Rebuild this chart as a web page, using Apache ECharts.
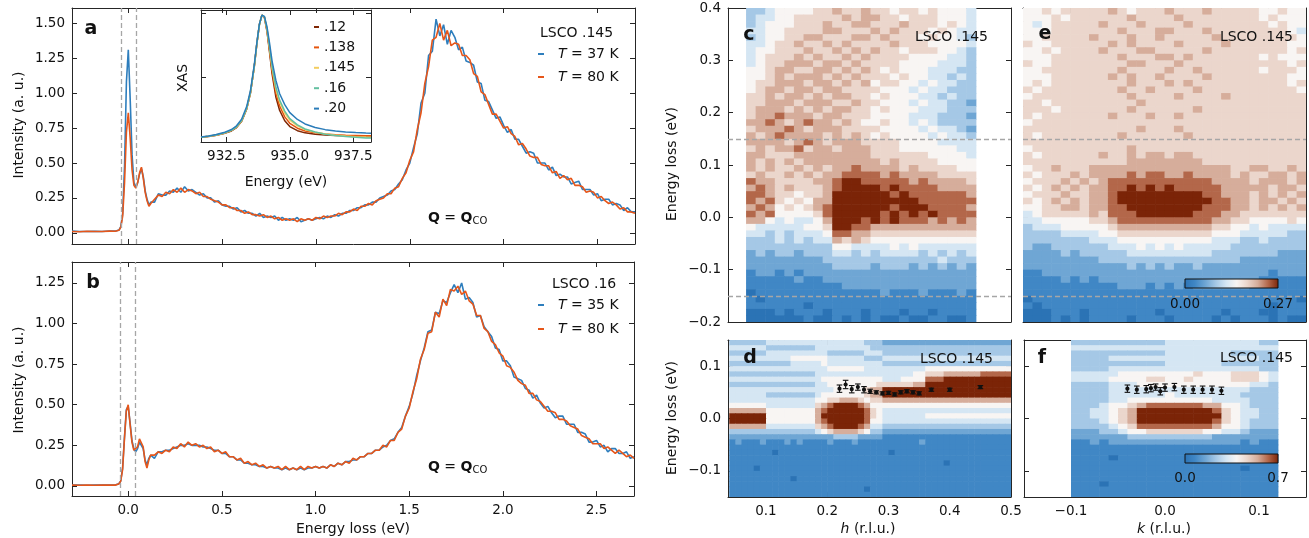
<!DOCTYPE html>
<html><head><meta charset="utf-8"><title>LSCO RIXS</title>
<script src="https://cdn.jsdelivr.net/npm/echarts@6.0.0/dist/echarts.min.js"></script>
<style>html,body{margin:0;padding:0;background:#fff;}#chart{width:1309px;height:538px;}</style>
</head><body><div id="chart"></div>
<script>
// ---------------- DATA ----------------
const energy = [-0.30,-0.26,-0.22,-0.18,-0.14,-0.10,-0.07,-0.05,
-0.04,-0.03,-0.02,-0.01,0.00,0.01,0.02,0.03,0.04,0.05,0.06,0.07,0.08,0.09,0.10,0.11,0.12,
0.14,0.16,0.18,0.20,0.22,0.24,0.26,0.28,0.30,0.32,
0.34,0.36,0.38,0.40,0.42,0.44,0.46,0.48,0.50,0.52,
0.54,0.56,0.58,0.60,0.62,0.64,0.66,0.68,0.70,0.72,
0.74,0.76,0.78,0.80,0.82,0.84,0.86,0.88,0.90,0.92,
0.94,0.96,0.98,1.00,1.02,1.04,1.06,1.08,1.10,1.12,
1.14,1.16,1.18,1.20,1.22,1.24,1.26,1.28,1.30,1.32,
1.34,1.36,1.38,1.40,1.42,1.44,1.46,1.48,1.50,1.52,
1.54,1.56,1.58,1.60,1.62,1.64,1.66,1.68,1.70,1.72,
1.74,1.76,1.78,1.80,1.82,1.84,1.86,1.88,1.90,1.92,
1.94,1.96,1.98,2.00,2.02,2.04,2.06,2.08,2.10,2.12,
2.14,2.16,2.18,2.20,2.22,2.24,2.26,2.28,2.30,2.32,
2.34,2.36,2.38,2.40,2.42,2.44,2.46,2.48,2.50,2.52,
2.54,2.56,2.58,2.60,2.62,2.64,2.66,2.68,2.70];

const a37 = [0.012,0.009,0.010,0.011,0.009,0.013,0.012,0.020,
0.045,0.14,0.48,1.08,1.31,0.96,0.56,0.36,0.33,0.36,0.42,0.46,0.40,0.30,0.24,0.20,0.22,
0.22,0.28,0.27,0.27,0.30,0.29,0.32,0.29,0.33,0.30,
0.31,0.29,0.27,0.28,0.25,0.25,0.22,0.23,0.20,0.19,
0.19,0.17,0.18,0.15,0.16,0.14,0.14,0.12,0.14,0.11,
0.12,0.11,0.12,0.09,0.11,0.09,0.10,0.09,0.11,0.08,
0.09,0.10,0.09,0.10,0.11,0.10,0.12,0.11,0.13,0.12,
0.14,0.14,0.16,0.16,0.18,0.18,0.20,0.20,0.22,0.22,
0.25,0.26,0.27,0.30,0.31,0.35,0.38,0.45,0.50,0.61,
0.71,0.93,1.00,1.27,1.30,1.53,1.41,1.49,1.35,1.45,
1.40,1.31,1.33,1.23,1.22,1.20,1.08,1.07,0.95,0.94,
0.88,0.82,0.83,0.77,0.72,0.74,0.67,0.67,0.62,0.57,
0.58,0.57,0.50,0.50,0.50,0.45,0.47,0.41,0.42,0.40,
0.40,0.35,0.36,0.37,0.31,0.31,0.31,0.27,0.28,0.23,
0.24,0.24,0.20,0.21,0.20,0.16,0.18,0.15,0.15];

const a80 = [0.010,0.008,0.011,0.009,0.010,0.012,0.011,0.018,
0.040,0.12,0.36,0.72,0.86,0.68,0.45,0.34,0.32,0.36,0.43,0.47,0.39,0.29,0.23,0.19,0.21,
0.24,0.27,0.26,0.29,0.28,0.31,0.29,0.32,0.29,0.31,
0.30,0.28,0.29,0.26,0.26,0.24,0.23,0.22,0.20,0.20,
0.18,0.18,0.16,0.16,0.14,0.15,0.13,0.13,0.12,0.13,
0.11,0.12,0.10,0.11,0.09,0.10,0.09,0.10,0.08,0.10,
0.09,0.10,0.09,0.11,0.10,0.12,0.11,0.12,0.12,0.14,
0.13,0.15,0.15,0.17,0.16,0.19,0.19,0.21,0.20,0.23,
0.24,0.25,0.28,0.28,0.32,0.33,0.39,0.43,0.52,0.58,
0.74,0.86,1.07,1.19,1.38,1.40,1.50,1.38,1.45,1.34,
1.36,1.35,1.27,1.27,1.24,1.14,1.12,1.01,0.99,0.92,
0.85,0.85,0.80,0.75,0.76,0.71,0.69,0.63,0.64,0.60,
0.55,0.54,0.54,0.49,0.48,0.48,0.43,0.44,0.39,0.41,
0.38,0.39,0.34,0.34,0.33,0.29,0.30,0.29,0.25,0.26,
0.23,0.21,0.22,0.20,0.17,0.18,0.15,0.15,0.14];

const b35 = [0.006,0.005,0.004,0.006,0.005,0.005,0.006,0.013,
0.03,0.11,0.30,0.47,0.49,0.39,0.28,0.23,0.21,0.23,0.27,0.28,0.23,0.16,0.13,0.17,0.19,
0.17,0.21,0.21,0.22,0.22,0.23,0.24,0.25,0.25,0.26,
0.25,0.25,0.25,0.24,0.24,0.23,0.22,0.22,0.20,0.20,
0.18,0.18,0.16,0.16,0.14,0.14,0.13,0.13,0.12,0.12,
0.11,0.12,0.11,0.11,0.10,0.11,0.10,0.11,0.10,0.11,
0.10,0.11,0.11,0.12,0.11,0.12,0.11,0.13,0.12,0.14,
0.13,0.15,0.15,0.16,0.16,0.18,0.18,0.20,0.20,0.22,
0.22,0.24,0.25,0.28,0.29,0.33,0.36,0.43,0.49,0.57,
0.68,0.77,0.85,0.95,0.96,1.07,1.06,1.14,1.13,1.19,
1.24,1.19,1.25,1.15,1.16,1.13,1.04,1.05,0.98,0.95,
0.92,0.85,0.84,0.77,0.77,0.74,0.67,0.66,0.65,0.60,
0.59,0.54,0.56,0.51,0.48,0.49,0.45,0.42,0.43,0.43,
0.38,0.38,0.38,0.33,0.33,0.32,0.27,0.27,0.28,0.24,
0.25,0.21,0.23,0.23,0.20,0.20,0.21,0.17,0.18];

const b80 = [0.005,0.004,0.006,0.004,0.005,0.006,0.005,0.012,
0.03,0.10,0.29,0.46,0.50,0.38,0.27,0.22,0.21,0.24,0.29,0.30,0.24,0.15,0.11,0.16,0.19,
0.19,0.21,0.20,0.22,0.21,0.24,0.23,0.26,0.24,0.27,
0.25,0.26,0.24,0.25,0.23,0.24,0.21,0.22,0.20,0.21,
0.18,0.18,0.16,0.17,0.14,0.15,0.13,0.14,0.12,0.13,
0.11,0.12,0.11,0.12,0.10,0.12,0.10,0.11,0.10,0.12,
0.10,0.12,0.11,0.12,0.11,0.12,0.11,0.13,0.12,0.14,
0.13,0.15,0.14,0.17,0.16,0.18,0.18,0.20,0.20,0.22,
0.22,0.25,0.24,0.28,0.28,0.33,0.35,0.43,0.48,0.58,
0.66,0.78,0.84,0.94,0.95,1.07,1.04,1.15,1.11,1.21,
1.20,1.23,1.18,1.20,1.14,1.12,1.05,1.05,0.97,0.95,
0.89,0.87,0.82,0.80,0.74,0.73,0.70,0.65,0.63,0.62,
0.57,0.57,0.53,0.52,0.49,0.46,0.46,0.45,0.41,0.41,
0.40,0.37,0.36,0.35,0.31,0.30,0.29,0.26,0.26,0.26,
0.23,0.24,0.22,0.20,0.22,0.20,0.18,0.19,0.17];

// XAS inset (normalised)
const xasE = [931.5,931.8,932.1,932.4,932.7,932.9,933.1,933.3,933.45,933.6,933.7,933.8,933.9,933.95,934.0,934.1,934.2,
934.3,934.45,934.6,934.8,935.0,935.3,935.6,936.0,936.4,936.8,937.2,937.6,938.0,938.2];
const xasNames = ['.12','.138','.145','.16','.20'];
const xas12  = [0.036,0.043,0.052,0.065,0.086,0.112,0.160,0.255,0.380,0.585,0.760,0.910,0.985,0.990,0.965,0.860,0.700,
0.530,0.350,0.245,0.165,0.120,0.088,0.071,0.060,0.054,0.050,0.048,0.047,0.046,0.046];
const xas138 = [0.036,0.044,0.053,0.067,0.088,0.115,0.163,0.258,0.383,0.585,0.760,0.910,0.985,0.990,0.967,0.868,0.715,
0.555,0.380,0.280,0.195,0.145,0.107,0.086,0.071,0.062,0.056,0.052,0.050,0.048,0.048];
const xas145 = [0.036,0.044,0.054,0.068,0.090,0.117,0.165,0.260,0.385,0.585,0.760,0.910,0.985,0.990,0.970,0.875,0.730,
0.575,0.410,0.310,0.225,0.170,0.125,0.097,0.076,0.062,0.053,0.046,0.041,0.038,0.037];
const xas16  = [0.036,0.045,0.055,0.069,0.091,0.118,0.166,0.262,0.387,0.588,0.762,0.910,0.985,0.990,0.972,0.880,0.740,
0.590,0.425,0.325,0.240,0.182,0.133,0.101,0.077,0.061,0.050,0.042,0.036,0.032,0.031];
const xas20  = [0.038,0.047,0.058,0.073,0.097,0.126,0.176,0.275,0.400,0.600,0.770,0.915,0.985,0.990,0.975,0.895,0.770,
0.630,0.480,0.375,0.290,0.228,0.175,0.140,0.113,0.096,0.085,0.078,0.073,0.069,0.068];

// Heat-map panels: one digit per cell, 0 (low, blue) .. 9 (high, brown); row 0 = highest energy
const rowEdgesCE = [0.4,0.3875,0.375,0.3625,0.35,0.3375,0.325,0.3125,0.3,0.2875,0.275,0.2625,0.25,0.2375,0.225,0.2125,0.2,
0.1875,0.175,0.1625,0.15,0.1375,0.125,0.1125,0.1,0.0875,0.075,0.0625,0.05,0.0375,0.025,0.0125,0,-0.0125,-0.025,-0.0375,
-0.05,-0.0625,-0.075,-0.0875,-0.1,-0.1125,-0.125,-0.1375,-0.15,-0.1625,-0.175,-0.1875,-0.2];
const colEdgesC = [0.0675,0.0831,0.0988,0.1144,0.1300,0.1456,0.1613,0.1769,0.1925,0.2081,0.2238,0.2394,0.2550,0.2706,
0.2863,0.3019,0.3175,0.3331,0.3488,0.3644,0.3800,0.3956,0.4113,0.4269,0.4425];
const colEdgesE = [-0.15,-0.14,-0.13,-0.12,-0.11,-0.10,-0.09,-0.08,-0.07,-0.06,-0.05,-0.04,-0.03,-0.02,-0.01,0,
0.01,0.02,0.03,0.04,0.05,0.06,0.07,0.08,0.09,0.10,0.11,0.12,0.13,0.14,0.15];
const rowEdgesDF = [0.15,0.14,0.13,0.12,0.11,0.10,0.09,0.08,0.07,0.06,0.05,0.04,0.03,0.02,0.01,0,-0.01,-0.02,-0.03,-0.04,
-0.05,-0.06,-0.07,-0.08,-0.09,-0.10,-0.11,-0.12,-0.13,-0.14,-0.15];
const colEdgesD = [0.04,0.05,0.06,0.07,0.08,0.09,0.10,0.11,0.12,0.13,0.14,0.15,0.16,0.17,0.18,0.19,0.20,0.21,0.22,0.23,
0.24,0.25,0.26,0.27,0.28,0.29,0.30,0.31,0.32,0.33,0.34,0.35,0.36,0.37,0.38,0.39,0.40,0.41,0.42,0.43,0.44,0.45,0.46,
0.47,0.48,0.49,0.50];
const colEdgesF = [-0.10,-0.09,-0.08,-0.07,-0.06,-0.05,-0.04,-0.03,-0.02,-0.01,0,0.01,0.02,0.03,0.04,0.05,0.06,0.07,
0.08,0.09,0.10,0.11,0.12];

const mapC = [
"334555 566766 766566 565554","344556 666676 776656 665554","345556 667667 766676 665654","445566 667766 676766 656544",
"345566 776667 767666 565543","445667 667676 666766 655554","455666 766767 676656 665543","456667 676676 766665 555443",
"456677 767767 666655 554443","556776 677676 765655 544433","556767 776767 666565 544343","566777 677676 756655 454433",
"567767 767766 665554 544333","667677 676776 656555 443433","667776 777667 665554 544332","677767 676776 656555 444333",
"677877 767766 655554 443332","778767 877676 556554 543333","677787 677766 665555 454432","767877 776767 656555 545443",
"777767 876777 666655 554444","676778 677677 766655 555544","776667 777777 766666 655554","767676 777777 776766 665555",
"767667 676778 777767 666655","676676 767788 887877 776666","877666 677899 888887 877776","787676 667899 998988 887777",
"887665 667999 999898 888887","878656 577999 999999 888888","787565 678999 999899 988887","878555 568999 998989 898888",
"775454 457999 898988 878787","544444 556998 877777 777777","443434 445887 766666 666666","333434 344767 655555 555555",
"333333 333554 444545 444444","232332 333443 434444 343434","222222 223333 333333 334333","222222 222333 323332 323232",
"122121 222222 222222 222222","111112 112222 222222 222222","111111 111122 222222 222222","011111 111111 112111 211121",
"101111 111111 111111 111111","111111 011111 111111 111111","000101 110111 011101 101111","000000 100101 010010 011001"];

const mapE = [
"5565666667 6566676667 6666655655","5556566666 6766667666 6666656555","5456666676 6676666766 6666665655",
"5556666666 7666776667 6666666654","5566666766 6766766666 7666666665","6556666667 6766667666 6766666655",
"5565666676 6677666667 6666666656","5556666666 7666776766 6666656555","6556666666 6776667666 6666666656",
"5566666666 7666676676 6666656665","5556666667 6766766667 6666666655","5656666666 6766676766 6666666656",
"6566666666 7667666676 6666666665","5666666666 6766667666 6766666666","6656666666 6676666666 6666666666",
"6665666666 6766666676 6666666666","6566666667 6667667666 6666666666","5666666666 6666666666 6666666666",
"6666666666 6676667666 6666666666","6566666666 7666666766 6666666666","6666666666 6666666666 6666666666",
"5666666666 6766666666 6666666666","6566666676 6767767766 6666666666","6666666666 6777777776 6666666666",
"5667666777 7777777777 7766776676","6566676777 7878877877 7767667767","5666767678 8888888888 7777677767",
"6567676778 8989898888 8777776776","5666766778 9999999998 8777676767","6567676778 9999999999 8877677676",
"5566776778 8999999998 8877676767","4566666768 8899999988 8776666666","4455555667 8888888888 7766555565",
"3444555556 7777777777 6655454444","3333444455 6666666666 5554444433","3333333444 5555555555 4443343333",
"3223333334 4454545444 4433333333","2222323333 3444444444 3333333222","2222222233 3333333333 3332222222",
"2222222222 2323232232 2222222222","1122222222 2222222222 2222221222","1111212122 2222222222 2222211111",
"1111111111 2221212122 2222111111","1111111111 1111111111 1111111111","0111111111 1111111111 1111111110",
"1011111111 1111111111 1111110111","0001110111 1111011111 1011100111","0001010111 1011101111 0101110100"];

// panel d: column groups h .04-.10 | .10-.18 | .18-.20 | .20-.26 | .26 | .27-.29 | .29-.36 | .36-.50
const mapD = [
"333333 44444444 44 444444 3 33 2222222 22222222222222",
"444444 33333333 44 444444 4 33 3333333 33333333333333",
"333333 44444444 44 333333 4 44 3333333 33333333333333",
"444444 44445555 55 444444 3 33 4444444 44444444444444",
"333333 33334444 45 444444 4 44 3333333 33333333333333",
"444444 44444444 44 555555 4 44 4444444 55555555555555",
"333333 33333333 44 444444 4 44 4444455 66677777788888",
"444444 44444444 45 555555 5 55 4445555 88899999999999",
"333333 33333333 44 555555 5 56 6666677 99999999999999",
"444444 44444444 44 455555 6 77 9999999 99999999999999",
"444444 33333333 45 555555 6 77 9999999 99999999999999",
"444444 44444444 55 667776 5 66 7777777 77777777777777",
"555555 44444444 67 899998 7 55 5555555 55555555555555",
"777777 55555555 78 999999 8 65 4444444 44444444444444",
"999999 55555555 79 999999 8 65 4444444 55555555555555",
"999999 55555555 78 999999 8 55 4444444 44444444444444",
"777777 44444444 67 899998 7 44 3333333 33333333333333",
"333333 33333333 45 677776 5 33 2222222 22222222222222",
"222222 22222222 22 233332 2 22 1111111 11111111111111",
"121112 11121211 11 211121 1 11 1111112 11111111111111",
"111111 11111111 11 111111 1 11 1111111 11111111111111",
"111111 10111111 11 111111 1 11 1011111 11111111111111",
"111111 11111111 11 111111 1 11 1111111 11111111111111",
"111111 11111111 11 111111 1 11 1111111 11101111111111",
"111101 11111111 11 111111 1 11 1111111 11111111111111",
"111111 11111111 11 111111 1 11 1111111 11111111111111",
"111111 11110111 11 111111 1 11 1111111 11111111111111",
"111111 11111111 11 111111 1 11 1111111 11111111111111",
"111111 11111111 11 111111 0 11 1111111 11111111111111",
"111111 11111111 11 111111 1 11 1111111 11111111111111"];

const mapF = [
"3333333333 4444444444 33","4444444444 4444444444 44","3333333333 4444444333 33","3333444444 4444444444 33",
"3333333333 4444443333 33","3333444444 4444444444 33","4444455555 5556555666 54","4444555566 5565555666 54",
"3333444555 5555555554 43","3333444444 4444444443 33","3333444444 5444444433 33","3333445555 5555544443 33",
"3334556788 8888775543 33","3344567999 9999986544 33","3344567999 9999996544 33","3334567999 9999986543 33",
"3333456888 8888875543 33","2223345566 6666554432 22","2222223333 3333322222 22","1121222222 2222222212 11",
"1111111111 1111111111 11","1111111111 1111111111 11","1111011111 1111111111 11","1111111111 1111111111 11",
"1111111111 1111111101 11","1111111111 1111111111 11","1111111111 1111111111 11","1110111111 1111111111 11",
"1111111111 1111111111 11","1111111111 1111111111 11"];

// peak dispersion with error bars
const dH   = [0.22,0.23,0.24,0.25,0.26,0.27,0.28,0.29,0.30,0.31,0.32,0.33,0.34,0.35,0.37,0.40,0.45];
const dE   = [0.057,0.065,0.056,0.060,0.055,0.052,0.050,0.048,0.049,0.046,0.050,0.052,0.050,0.048,0.055,0.055,0.060];
const dErr = [0.007,0.008,0.007,0.006,0.006,0.004,0.003,0.003,0.003,0.003,0.003,0.003,0.003,0.003,0.003,0.003,0.003];
const fK   = [-0.04,-0.03,-0.02,-0.015,-0.01,-0.005,0,0.01,0.02,0.03,0.04,0.05,0.06];
const fE   = [0.057,0.055,0.056,0.058,0.060,0.052,0.059,0.060,0.055,0.055,0.055,0.055,0.053];
const fErr = [0.007,0.007,0.007,0.007,0.006,0.007,0.007,0.007,0.007,0.007,0.007,0.007,0.007];

const maxCE = 0.27, maxDF = 0.7;

// ---------------- STYLE ----------------
const FONT = 'DejaVu Sans';
const BLUE = '#2e7ebd', ORANGE = '#e6561a';
const XAS_COLORS = ['#7f2704', '#e6550d', '#f3cd60', '#63c0a0', '#2b7cb9'];
const CMAP = ['#2b73b5','#4087c5','#6fa6d4','#a5c8e6','#d5e6f3','#f8f5f3','#ebd6cc','#d6ad9b','#b3674a','#7b2407'];
const AX = '#262626';

const zip = (xs, ys) => xs.map((x, i) => [x, ys[i]]);
const fmt = d => v => { let s = (+v).toFixed(d); if (Math.abs(v) < 1e-9) s = (0).toFixed(d); return s.replace('-', '\u2212'); };

function cells(rows, colEdges, rowEdges, vmax) {
  const out = [];
  rows.forEach((row, r) => {
    const s = row.replace(/ /g, '');
    for (let j = 0; j < s.length; j++) out.push([colEdges[j], colEdges[j + 1], rowEdges[r], rowEdges[r + 1], (+s[j]) / 9 * vmax]);
  });
  return out;
}
function cellItem(params, api) {
  const p0 = api.coord([api.value(0), api.value(2)]);
  const p1 = api.coord([api.value(1), api.value(3)]);
  return { type: 'rect', shape: { x: Math.min(p0[0], p1[0]), y: Math.min(p0[1], p1[1]),
    width: Math.abs(p1[0] - p0[0]) + 0.6, height: Math.abs(p1[1] - p0[1]) + 0.6 },
    style: { fill: api.visual('color') } };
}
function errItem(params, api) {
  const x = api.value(0), y = api.value(1), e = api.value(2);
  const p = api.coord([x, y]), lo = api.coord([x, y - e]), hi = api.coord([x, y + e]);
  const cw = 2.8, st = { stroke: '#111', lineWidth: 1.1 };
  return { type: 'group', children: [
    { type: 'line', shape: { x1: p[0], y1: lo[1], x2: p[0], y2: hi[1] }, style: st },
    { type: 'line', shape: { x1: p[0] - cw, y1: lo[1], x2: p[0] + cw, y2: lo[1] }, style: st },
    { type: 'line', shape: { x1: p[0] - cw, y1: hi[1], x2: p[0] + cw, y2: hi[1] }, style: st },
    { type: 'circle', shape: { cx: p[0], cy: p[1], r: 2.1 }, style: { fill: '#111' } } ] };
}

// ---------------- LAYOUT ----------------
const grids = [
  { left: 72, top: 8, width: 563, height: 236 },      // 0 a
  { left: 72, top: 262, width: 562, height: 234 },    // 1 b
  { left: 201, top: 10, width: 170, height: 132, show: true, backgroundColor: '#fff', borderWidth: 0 }, // 2 inset
  { left: 728, top: 8, width: 283, height: 314 },     // 3 c
  { left: 1023, top: 8, width: 283, height: 314 },    // 4 e
  { left: 728, top: 340, width: 283, height: 157 },   // 5 d
  { left: 1024, top: 340, width: 282, height: 157 }   // 6 f
];
const xAxes = [], yAxes = [];
function axisBase(show, ticks, f) {
  return {
    axisLine: { show: true, onZero: false, lineStyle: { color: AX, width: 1 } },
    axisTick: { show: true, inside: true, length: 5, customValues: ticks, lineStyle: { color: AX, width: 1 } },
    axisLabel: { show: show, customValues: ticks, formatter: f, color: '#111', fontFamily: FONT, fontSize: 13.5, margin: 7,
      showMinLabel: true, showMaxLabel: true, hideOverlap: false },
    splitLine: { show: false }
  };
}
function addAxes(g, xr, yr, xt, yt, showX, showY, fx, fy) {
  const xi = xAxes.length, yi = yAxes.length;
  xAxes.push(Object.assign({ type: 'value', gridIndex: g, min: xr[0], max: xr[1], position: 'bottom' }, axisBase(showX, xt, fx)));
  xAxes.push(Object.assign({ type: 'value', gridIndex: g, min: xr[0], max: xr[1], position: 'top' }, axisBase(false, xt, fx)));
  yAxes.push(Object.assign({ type: 'value', gridIndex: g, min: yr[0], max: yr[1], position: 'left' }, axisBase(showY, yt, fy)));
  yAxes.push(Object.assign({ type: 'value', gridIndex: g, min: yr[0], max: yr[1], position: 'right' }, axisBase(false, yt, fy)));
  return { x: xi, y: yi };
}
const eTicks = [0, 0.5, 1.0, 1.5, 2.0, 2.5];
const axA = addAxes(0, [-0.3, 2.7], [-0.08, 1.61], eTicks, [0, 0.25, 0.5, 0.75, 1.0, 1.25, 1.5], false, true, fmt(1), fmt(2));
const axB = addAxes(1, [-0.3, 2.7], [-0.062, 1.379], eTicks, [0, 0.25, 0.5, 0.75, 1.0, 1.25], true, true, fmt(1), fmt(2));
const axI = addAxes(2, [931.5, 938.2], [0, 1.025], [932.5, 935, 937.5], [0, 0.5, 1.0], true, false, fmt(1), fmt(1));
const axC = addAxes(3, [0.038, 0.5], [-0.2, 0.4], [0.1, 0.2, 0.3, 0.4, 0.5], [-0.2, -0.1, 0, 0.1, 0.2, 0.3, 0.4], false, true, fmt(1), fmt(1));
const axE = addAxes(4, [-0.15, 0.15], [-0.2, 0.4], [-0.1, 0, 0.1], [-0.2, -0.1, 0, 0.1, 0.2, 0.3, 0.4], false, false, fmt(1), fmt(1));
const axD = addAxes(5, [0.038, 0.5], [-0.15, 0.15], [0.1, 0.2, 0.3, 0.4, 0.5], [-0.1, 0, 0.1], true, true, fmt(1), fmt(1));
const axF = addAxes(6, [-0.15, 0.15], [-0.15, 0.15], [-0.1, 0, 0.1], [-0.1, 0, 0.1], true, false, fmt(1), fmt(1));

const dashV = { silent: true, symbol: ['none', 'none'], label: { show: false }, animation: false,
  lineStyle: { color: '#a6a6a6', type: [5, 3], width: 1.3 }, data: [{ xAxis: -0.035 }, { xAxis: 0.035 }] };
const dashH = { silent: true, symbol: ['none', 'none'], label: { show: false }, animation: false,
  lineStyle: { color: '#a6a6a6', type: [5, 3], width: 1.3 }, data: [{ yAxis: 0.15 }, { yAxis: -0.15 }] };

const series = [];
function line(name, ax, xs, ys, color, extra) {
  series.push(Object.assign({ name, type: 'line', xAxisIndex: ax.x, yAxisIndex: ax.y, data: zip(xs, ys),
    showSymbol: false, symbol: 'none', lineStyle: { width: 1.6, color }, itemStyle: { color }, z: 3, silent: true }, extra || {}));
}
line('a37', axA, energy, a37, BLUE, { markLine: dashV });
line('a80', axA, energy, a80, ORANGE);
line('b35', axB, energy, b35, BLUE, { markLine: dashV });
line('b80', axB, energy, b80, ORANGE);
[xas12, xas138, xas145, xas16, xas20].forEach((ys, i) => line(xasNames[i], axI, xasE, ys, XAS_COLORS[i], { lineStyle: { width: 1.5, color: XAS_COLORS[i] }, z: 6 }));

function heat(ax, data) {
  series.push({ type: 'custom', xAxisIndex: ax.x, yAxisIndex: ax.y, renderItem: cellItem, data,
    encode: { x: [0, 1], y: [2, 3] }, clip: true, silent: true, z: 2 });
  return series.length - 1;
}
const sC = heat(axC, cells(mapC, colEdgesC, rowEdgesCE, maxCE));
const sE = heat(axE, cells(mapE, colEdgesE, rowEdgesCE, maxCE));
const sD = heat(axD, cells(mapD, colEdgesD, rowEdgesDF, maxDF));
const sF = heat(axF, cells(mapF, colEdgesF, rowEdgesDF, maxDF));
series.push({ type: 'line', xAxisIndex: axC.x, yAxisIndex: axC.y, data: [], markLine: dashH, z: 8 });
series.push({ type: 'line', xAxisIndex: axE.x, yAxisIndex: axE.y, data: [], markLine: dashH, z: 8 });
series.push({ type: 'custom', xAxisIndex: axD.x, yAxisIndex: axD.y, renderItem: errItem, z: 9, silent: true,
  data: dH.map((h, i) => [h, dE[i], dErr[i]]), encode: { x: 0, y: 1 } });
series.push({ type: 'custom', xAxisIndex: axF.x, yAxisIndex: axF.y, renderItem: errItem, z: 9, silent: true,
  data: fK.map((k, i) => [k, fE[i], fErr[i]]), encode: { x: 0, y: 1 } });

// ---------------- TEXT ----------------
const TXT = '#111';
function T(text, x, y, st, el) {
  return Object.assign({ type: 'text', x, y, z: 100, silent: true,
    style: Object.assign({ text, fill: TXT, fontFamily: FONT, fontSize: 14, align: 'center', verticalAlign: 'middle' }, st || {}) }, el || {});
}
const bold = { fontWeight: 'bold', fontSize: 19 };
const richQ = { b: { fontWeight: 'bold', fontSize: 14, fontFamily: FONT, fill: TXT }, n: { fontSize: 14, fontFamily: FONT, fill: TXT },
  s: { fontSize: 10, fontFamily: FONT, fill: TXT, padding: [7, 0, 0, 0] } };
const richI = { i: { fontStyle: 'italic', fontSize: 14, fontFamily: FONT, fill: TXT } };
const grad = { type: 'linear', x: 0, y: 0, x2: 1, y2: 0, colorStops: CMAP.map((c, i) => ({ offset: i / (CMAP.length - 1), color: c })) };
const graphics = [
  T('a', 91, 29, bold), T('b', 93, 283, bold), T('c', 749, 35, bold), T('e', 1045, 34, bold), T('d', 750, 358, bold), T('f', 1042, 358, bold),
  T('LSCO .145', 540, 33, { align: 'left' }), T('LSCO .16', 552, 284, { align: 'left' }),
  T('LSCO .145', 988, 37, { align: 'right' }), T('LSCO .145', 1293, 37, { align: 'right' }),
  T('LSCO .145', 993, 359, { align: 'right' }), T('LSCO .145', 1293, 358, { align: 'right' }),
  T('{b|Q} = {b|Q}{s|CO}', 428, 218, { align: 'left', rich: richQ }),
  T('{b|Q} = {b|Q}{s|CO}', 428, 467, { align: 'left', rich: richQ }),
  T('Intensity (a. u.)', 19, 125, {}, { rotation: Math.PI / 2 }),
  T('Intensity (a. u.)', 19, 380, {}, { rotation: Math.PI / 2 }),
  T('Energy loss (eV)', 353, 529),
  T('Energy loss (eV)', 672, 164, {}, { rotation: Math.PI / 2 }),
  T('Energy loss (eV)', 672, 418, {}, { rotation: Math.PI / 2 }),
  T('{i|h} (r.l.u.)', 868, 529, { rich: richI }),
  T('{i|k} (r.l.u.)', 1164, 529, { rich: richI }),
  T('XAS', 183, 78, {}, { rotation: Math.PI / 2 }),
  T('Energy (eV)', 286, 182),
  { type: 'rect', z: 100, silent: true, shape: { x: 1185, y: 279, width: 93, height: 9 }, style: { fill: grad, stroke: '#111', lineWidth: 1 } },
  T('0.00', 1185, 304, { fontSize: 13.5 }), T('0.27', 1278, 304, { fontSize: 13.5 }),
  { type: 'rect', z: 100, silent: true, shape: { x: 1185, y: 454, width: 93, height: 9 }, style: { fill: grad, stroke: '#111', lineWidth: 1 } },
  T('0.0', 1185, 478, { fontSize: 13.5 }), T('0.7', 1278, 478, { fontSize: 13.5 })
];

const legendText = { fontFamily: FONT, fontSize: 14, color: TXT,
  rich: { s: { width: 9 }, i: { fontStyle: 'italic', fontFamily: FONT, fontSize: 14, color: TXT } } };
const tempLabel = { a37: '37', a80: '80', b35: '35', b80: '80' };
const legends = [
  { data: ['a37', 'a80'], left: 538, top: 47, itemGap: 9 },
  { data: ['b35', 'b80'], left: 538, top: 298, itemGap: 10 }
].map(l => Object.assign({ orient: 'vertical', icon: 'rect', itemWidth: 6, itemHeight: 2, padding: 0, selectedMode: false,
  formatter: n => '{s|}{i|T} = ' + tempLabel[n] + ' K', textStyle: legendText }, l));
legends.push({ data: xasNames, left: 314, top: 20, orient: 'vertical', icon: 'rect', itemWidth: 5, itemHeight: 2, itemGap: 6.4,
  padding: 0, selectedMode: false, textStyle: { fontFamily: FONT, fontSize: 14, color: TXT } });

const option = {
  animation: false,
  textStyle: { fontFamily: FONT },
  grid: grids.map(g => Object.assign({ containLabel: false }, g)),
  xAxis: xAxes, yAxis: yAxes,
  visualMap: [
    { type: 'continuous', show: false, min: 0, max: maxCE, dimension: 4, seriesIndex: [sC, sE], inRange: { color: CMAP } },
    { type: 'continuous', show: false, min: 0, max: maxDF, dimension: 4, seriesIndex: [sD, sF], inRange: { color: CMAP } }
  ],
  legend: legends,
  series,
  graphic: graphics
};
const chart = echarts.init(document.getElementById('chart'), null, { renderer: 'canvas' });
chart.setOption(option);
</script></body></html>
